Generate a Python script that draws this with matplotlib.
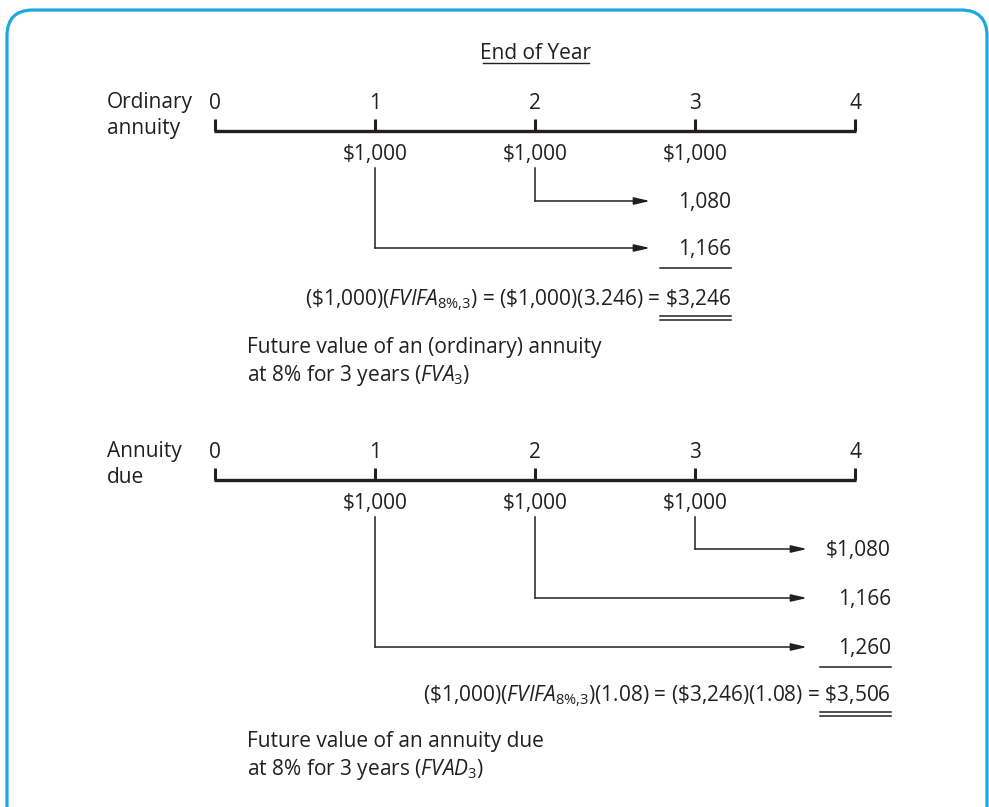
import matplotlib
matplotlib.use("Agg")
import matplotlib.pyplot as plt
from matplotlib.patches import FancyBboxPatch
from matplotlib.transforms import IdentityTransform

FONT = "Open Sans"
plt.rcParams["font.family"] = [FONT, "DejaVu Sans"]
plt.rcParams["mathtext.fontset"] = "custom"
plt.rcParams["mathtext.rm"] = FONT
plt.rcParams["mathtext.it"] = FONT + ":italic"

# data
years = [0, 1, 2, 3, 4]
payment = 1000
rate = "8%"
n_years = 3
fvifa = 3.246
ordinary_src_years = [2, 1]
ordinary_values = [1080, 1166]
ordinary_total = 3246
due_src_years = [3, 2, 1]
due_values = [1080, 1166, 1260]
due_total = 3506
growth = 1.08

W, H = 989, 807
FS = 15
INK = "#231f20"

fig = plt.figure(figsize=(W / 100, H / 100), dpi=100)
ax = fig.add_axes([0, 0, 1, 1])
# x in years (year 0 at px 215, 160 px per year), y in pixels from the top
x0, step = 215, 160
ax.set_xlim(-x0 / step, (W - x0) / step)
ax.set_ylim(H, 0)
ax.axis("off")


def px(x):
    return (x - x0) / step


# blue rounded frame
frame = FancyBboxPatch((7, -60), 980, H - 10 + 60, boxstyle="round,pad=0,rounding_size=26",
                       transform=IdentityTransform(), fill=False, ec="#1ca8e2", lw=2.3)
fig.patches.append(frame)

ax.text(2, 59, "End of Year", ha="center", va="baseline", fontsize=FS, color=INK)
ax.plot([px(483), px(589)], [63, 63], color=INK, lw=1)


def timeline(ybase, label):
    ax.text(px(107), ybase + 3, label, ha="left", va="baseline", fontsize=FS,
            color=INK, linespacing=1.3)
    for yr in years:
        ax.text(yr, ybase - 22, str(yr), ha="center", va="baseline", fontsize=FS, color=INK)
        ax.plot([yr, yr], [ybase - 12, ybase], color=INK, lw=2.2, solid_capstyle="butt")
    ax.plot([years[0] - 0.006, years[-1] + 0.006], [ybase, ybase], color=INK, lw=2.4,
            solid_capstyle="butt")
    for yr in years[1:-1]:
        ax.text(yr, ybase + 29, f"${payment:,}", ha="center", va="baseline",
                fontsize=FS, color=INK)


def flows(src_years, values, ys, y_top, x_arrow, x_text, first_dollar):
    for i, (yr, v, y) in enumerate(zip(src_years, values, ys)):
        ax.plot([yr, yr], [y_top, y], color=INK, lw=1.1)
        ax.annotate("", xy=(x_arrow, y), xytext=(yr, y),
                    arrowprops=dict(arrowstyle="-|>,head_length=0.95,head_width=0.22",
                                    color=INK, lw=1.1, shrinkA=0, shrinkB=0))
        lab = f"${v:,}" if (first_dollar and i == 0) else f"{v:,}"
        ax.text(x_text, y + 7, lab, ha="right", va="baseline", fontsize=FS, color=INK)


def totals(x_l, x_r, y_under, y_formula, formula, y_desc, desc):
    ax.plot([x_l, x_r], [y_under, y_under], color=INK, lw=1.1)
    ax.text(x_r, y_formula, formula, ha="right", va="baseline", fontsize=FS, color=INK)
    for dy in (11, 15):
        ax.plot([x_l, x_r], [y_formula + dy, y_formula + dy], color=INK, lw=1.1)
    ax.text(px(247), y_desc, desc, ha="left", va="baseline", fontsize=FS, color=INK,
            linespacing=1.25)


sub = rf"{rate[:-1]}\%{{,}}{n_years}"

# ordinary annuity
timeline(131, "Ordinary\nannuity")
flows(ordinary_src_years, ordinary_values, [201, 248], 168, px(650), px(731), False)
totals(px(660), px(731), 268, 305,
       rf"(\${payment:,})($\mathit{{FVIFA}}_{{{sub}}}$) = "
       rf"(\${payment:,})({fvifa}) = \${ordinary_total:,}",
       381, "Future value of an (ordinary) annuity\n"
       rf"at {rate} for {n_years} years ($\mathit{{FVA}}_{{{n_years}}}$)")

# annuity due
timeline(480, "Annuity\ndue")
flows(due_src_years, due_values, [549, 598, 647], 517, px(807), px(891), True)
totals(px(820), px(891), 667, 701,
       rf"(\${payment:,})($\mathit{{FVIFA}}_{{{sub}}}$)({growth}) = "
       rf"(\${ordinary_total:,})({growth}) = \${due_total:,}",
       775, "Future value of an annuity due\n"
       rf"at {rate} for {n_years} years ($\mathit{{FVAD}}_{{{n_years}}}$)")

fig.savefig("out.png", dpi=100)
